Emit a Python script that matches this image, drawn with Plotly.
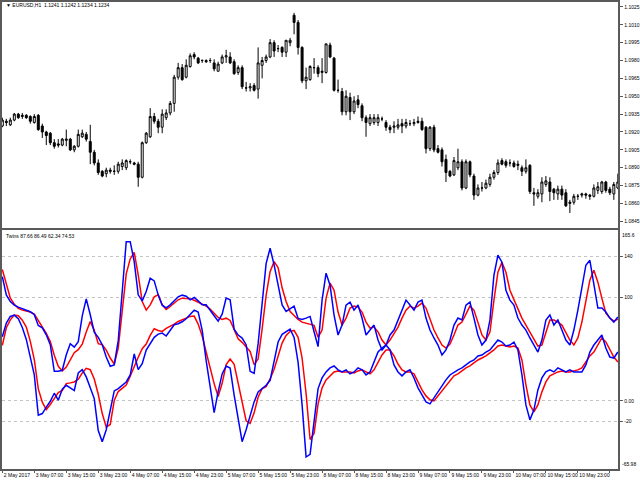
import plotly.graph_objects as go
from plotly.subplots import make_subplots

SYMBOL_TITLE = "▼ EURUSD,H1  1.1241 1.1242 1.1234 1.1234"
INDICATOR_TITLE = "Twins 87.66 86.49 62.34 74.53"

# EURUSD H1 candles, one per hour
OPEN = [
    1.0925, 1.0929, 1.0926, 1.0930, 1.0935, 1.0933, 1.0934, 1.0933, 1.0928, 1.0934,
    1.0925, 1.0920, 1.0919, 1.0911, 1.0910, 1.0909, 1.0913, 1.0914, 1.0905, 1.0908,
    1.0916, 1.0918, 1.0912, 1.0903, 1.0894, 1.0887, 1.0885, 1.0888, 1.0887, 1.0887,
    1.0891, 1.0890, 1.0895, 1.0894, 1.0893, 1.0882, 1.0911, 1.0916, 1.0933, 1.0929,
    1.0924, 1.0932, 1.0936, 1.0944, 1.0966, 1.0974, 1.0966, 1.0975, 1.0985, 1.0982,
    1.0980, 1.0980, 1.0980, 1.0978, 1.0971, 1.0978, 1.0983, 1.0983, 1.0979, 1.0970,
    1.0974, 1.0957, 1.0957, 1.0959, 1.0956, 1.0976, 1.0980, 1.0983, 1.0995, 1.0990,
    1.0991, 1.0987, 1.0995, 1.1018, 1.1012, 1.0991, 1.0963, 1.0964, 1.0974, 1.0974,
    1.0970, 1.0970, 1.0993, 1.0982, 1.0955, 1.0954, 1.0937, 1.0949, 1.0937, 1.0947,
    1.0942, 1.0932, 1.0927, 1.0928, 1.0928, 1.0931, 1.0928, 1.0924, 1.0924, 1.0924,
    1.0927, 1.0925, 1.0927, 1.0927, 1.0928, 1.0929, 1.0924, 1.0906, 1.0924, 1.0906,
    1.0905, 1.0897, 1.0887, 1.0884, 1.0890, 1.0895, 1.0873, 1.0895, 1.0883, 1.0867,
    1.0873, 1.0873, 1.0876, 1.0882, 1.0886, 1.0896, 1.0895, 1.0894, 1.0894, 1.0893,
    1.0890, 1.0887, 1.0892, 1.0869, 1.0866, 1.0868, 1.0876, 1.0878, 1.0872, 1.0868,
    1.0872, 1.0869, 1.0860, 1.0861, 1.0866, 1.0867, 1.0868, 1.0867, 1.0866, 1.0871,
    1.0870, 1.0878, 1.0872, 1.0868, 1.0873,
]
HIGH = [
    1.0932, 1.0931, 1.0932, 1.0936, 1.0936, 1.0936, 1.0935, 1.0934, 1.0935, 1.0935,
    1.0927, 1.0921, 1.0920, 1.0914, 1.0914, 1.0915, 1.0922, 1.0915, 1.0909, 1.0922,
    1.0922, 1.0920, 1.0926, 1.0905, 1.0897, 1.0888, 1.0890, 1.0890, 1.0892, 1.0895,
    1.0897, 1.0897, 1.0897, 1.0895, 1.0895, 1.0912, 1.0920, 1.0940, 1.0936, 1.0931,
    1.0939, 1.0939, 1.0946, 1.0968, 1.0978, 1.0977, 1.0981, 1.0986, 1.0987, 1.0983,
    1.0981, 1.0981, 1.0982, 1.0981, 1.0979, 1.0985, 1.0989, 1.0987, 1.0981, 1.0976,
    1.0976, 1.0962, 1.0961, 1.0961, 1.0991, 1.0983, 1.0985, 1.0998, 1.0997, 1.0993,
    1.0992, 1.0997, 1.0999, 1.1020, 1.1014, 1.0992, 1.0974, 1.0976, 1.0982, 1.0976,
    1.0982, 1.0994, 1.0995, 1.0983, 1.0964, 1.0957, 1.0955, 1.0953, 1.0950, 1.0951,
    1.0944, 1.0934, 1.0935, 1.0935, 1.0935, 1.0933, 1.0930, 1.0926, 1.0929, 1.0931,
    1.0931, 1.0931, 1.0930, 1.0931, 1.0933, 1.0932, 1.0925, 1.0925, 1.0926, 1.0909,
    1.0907, 1.0901, 1.0888, 1.0899, 1.0906, 1.0897, 1.0897, 1.0896, 1.0885, 1.0876,
    1.0878, 1.0880, 1.0885, 1.0888, 1.0897, 1.0898, 1.0897, 1.0897, 1.0896, 1.0896,
    1.0892, 1.0897, 1.0893, 1.0873, 1.0872, 1.0882, 1.0883, 1.0882, 1.0873, 1.0875,
    1.0875, 1.0872, 1.0863, 1.0868, 1.0868, 1.0869, 1.0869, 1.0868, 1.0876, 1.0878,
    1.0879, 1.0879, 1.0874, 1.0878, 1.0885,
]
LOW = [
    1.0924, 1.0925, 1.0925, 1.0929, 1.0931, 1.0931, 1.0931, 1.0927, 1.0927, 1.0921,
    1.0915, 1.0909, 1.0909, 1.0906, 1.0907, 1.0908, 1.0908, 1.0904, 1.0903, 1.0907,
    1.0915, 1.0912, 1.0893, 1.0892, 1.0884, 1.0882, 1.0882, 1.0885, 1.0884, 1.0885,
    1.0888, 1.0888, 1.0893, 1.0892, 1.0874, 1.0881, 1.0910, 1.0915, 1.0927, 1.0919,
    1.0919, 1.0930, 1.0934, 1.0937, 1.0964, 1.0963, 1.0965, 1.0974, 1.0981, 1.0977,
    1.0978, 1.0978, 1.0978, 1.0971, 1.0971, 1.0977, 1.0978, 1.0977, 1.0968, 1.0968,
    1.0956, 1.0954, 1.0954, 1.0954, 1.0948, 1.0965, 1.0978, 1.0982, 1.0983, 1.0987,
    1.0983, 1.0983, 1.0992, 1.1002, 1.0985, 1.0961, 1.0956, 1.0963, 1.0969, 1.0966,
    1.0961, 1.0969, 1.0982, 1.0954, 1.0953, 1.0934, 1.0934, 1.0930, 1.0935, 1.0940,
    1.0929, 1.0916, 1.0925, 1.0926, 1.0925, 1.0929, 1.0921, 1.0919, 1.0919, 1.0922,
    1.0919, 1.0923, 1.0925, 1.0925, 1.0927, 1.0921, 1.0902, 1.0904, 1.0903, 1.0902,
    1.0891, 1.0878, 1.0882, 1.0883, 1.0888, 1.0871, 1.0872, 1.0882, 1.0863, 1.0866,
    1.0870, 1.0872, 1.0874, 1.0880, 1.0884, 1.0892, 1.0890, 1.0891, 1.0890, 1.0888,
    1.0883, 1.0885, 1.0868, 1.0858, 1.0864, 1.0861, 1.0874, 1.0862, 1.0863, 1.0863,
    1.0863, 1.0857, 1.0852, 1.0859, 1.0863, 1.0865, 1.0864, 1.0863, 1.0865, 1.0868,
    1.0868, 1.0869, 1.0867, 1.0863, 1.0872,
]
CLOSE = [
    1.0930, 1.0928, 1.0930, 1.0935, 1.0932, 1.0934, 1.0932, 1.0929, 1.0933, 1.0922,
    1.0920, 1.0917, 1.0911, 1.0908, 1.0909, 1.0914, 1.0914, 1.0905, 1.0908, 1.0918,
    1.0919, 1.0914, 1.0903, 1.0894, 1.0886, 1.0883, 1.0888, 1.0887, 1.0887, 1.0893,
    1.0894, 1.0896, 1.0895, 1.0893, 1.0882, 1.0911, 1.0919, 1.0933, 1.0929, 1.0924,
    1.0935, 1.0936, 1.0944, 1.0966, 1.0974, 1.0964, 1.0976, 1.0984, 1.0983, 1.0978,
    1.0980, 1.0979, 1.0980, 1.0973, 1.0977, 1.0983, 1.0984, 1.0978, 1.0969, 1.0974,
    1.0958, 1.0957, 1.0958, 1.0955, 1.0978, 1.0980, 1.0983, 1.0995, 1.0988, 1.0990,
    1.0987, 1.0997, 1.0997, 1.1012, 1.0991, 1.0963, 1.0966, 1.0975, 1.0974, 1.0969,
    1.0971, 1.0994, 1.0983, 1.0955, 1.0955, 1.0937, 1.0950, 1.0937, 1.0946, 1.0943,
    1.0932, 1.0928, 1.0932, 1.0932, 1.0932, 1.0931, 1.0924, 1.0922, 1.0925, 1.0926,
    1.0925, 1.0928, 1.0927, 1.0928, 1.0929, 1.0922, 1.0906, 1.0924, 1.0905, 1.0903,
    1.0895, 1.0886, 1.0883, 1.0896, 1.0895, 1.0873, 1.0895, 1.0884, 1.0867, 1.0873,
    1.0873, 1.0877, 1.0882, 1.0886, 1.0894, 1.0893, 1.0892, 1.0894, 1.0891, 1.0892,
    1.0887, 1.0890, 1.0870, 1.0868, 1.0869, 1.0878, 1.0879, 1.0870, 1.0869, 1.0872,
    1.0867, 1.0858, 1.0861, 1.0866, 1.0866, 1.0868, 1.0867, 1.0866, 1.0873, 1.0874,
    1.0878, 1.0871, 1.0869, 1.0876, 1.0878,
]

# "Twins" indicator: a fast blue/red pair and a slow blue/red pair
BLUE_FAST = [
    120.4, 102.7, 96.2, 92.7, 90.8, 89.2, 87.9, 86.3, 83.4, 73.1,
    70.8, 64.0, 54.4, 28.6, 28.6, 29.6, 44.7, 55.4, 52.1, 57.3,
    82.4, 98.8, 83.4, 66.6, 61.5, 54.4, 42.5, 33.5, 34.8, 58.3,
    105.9, 154.2, 154.2, 134.9, 102.7, 96.9, 105.9, 118.8, 116.2, 102.7,
    92.7, 90.1, 93.0, 96.9, 100.8, 102.4, 101.4, 97.9, 100.1, 96.9,
    93.0, 93.0, 87.2, 82.4, 77.2, 84.0, 99.5, 97.9, 69.5, 63.7,
    60.8, 54.4, 28.6, 26.7, 55.4, 93.0, 133.0, 147.8, 131.7, 112.4,
    93.0, 86.6, 89.2, 91.7, 79.8, 78.9, 80.1, 81.8, 66.9, 52.5,
    97.6, 123.7, 112.1, 83.1, 63.8, 73.4, 92.8, 95.7, 87.9, 92.8,
    80.2, 63.8, 68.6, 73.4, 58.9, 49.3, 54.1, 63.8, 68.6, 78.3,
    87.9, 97.6, 92.8, 87.9, 95.7, 97.6, 80.2, 68.6, 60.9, 54.1,
    44.4, 49.3, 58.9, 73.4, 80.2, 78.3, 92.8, 95.7, 80.2, 63.8,
    54.1, 58.9, 78.3, 121.7, 141.1, 134.3, 107.2, 97.6, 92.8, 80.2,
    73.4, 68.6, 60.9, 54.1, 47.3, 58.9, 78.3, 83.1, 73.4, 78.3,
    68.6, 58.9, 54.1, 68.6, 87.9, 109.2, 131.4, 136.2, 112.1, 89.9,
    89.9, 86.0, 80.2, 76.3, 81.2,
]
RED_FAST = [
    127.2, 113.3, 99.5, 93.7, 89.5, 87.9, 87.2, 86.0, 84.0, 78.2,
    72.4, 65.3, 57.6, 44.1, 33.5, 29.0, 32.8, 39.9, 46.7, 49.6,
    55.0, 66.6, 76.9, 68.3, 55.4, 54.4, 49.2, 41.5, 35.7, 51.2,
    89.5, 123.0, 137.5, 143.9, 122.0, 96.2, 87.9, 93.0, 100.8, 102.7,
    93.0, 88.5, 91.4, 95.0, 97.9, 99.5, 99.5, 98.8, 97.5, 95.6,
    93.7, 91.7, 88.9, 85.3, 80.8, 78.9, 80.1, 77.9, 68.9, 60.2,
    56.7, 52.1, 47.9, 35.1, 40.6, 69.5, 102.1, 125.2, 134.9, 129.1,
    109.5, 96.2, 86.6, 82.7, 78.9, 76.3, 75.0, 74.4, 73.1, 61.5,
    68.6, 99.5, 114.0, 107.2, 86.0, 73.4, 80.2, 89.9, 91.8, 90.8,
    86.0, 76.3, 70.5, 71.5, 66.7, 58.9, 54.1, 58.9, 64.7, 71.5,
    80.2, 87.9, 91.8, 89.9, 91.8, 94.7, 89.9, 78.3, 68.6, 60.9,
    54.1, 51.2, 55.1, 63.8, 73.4, 76.3, 84.1, 91.8, 87.9, 76.3,
    63.8, 58.9, 66.7, 97.6, 124.6, 134.3, 124.6, 107.2, 97.6, 87.9,
    80.2, 73.4, 66.7, 58.9, 53.1, 54.1, 66.7, 78.3, 78.3, 76.3,
    73.4, 65.7, 58.9, 54.1, 60.9, 76.3, 97.6, 116.9, 126.6, 115.0,
    99.5, 85.0, 80.2, 77.3, 79.2,
]
BLUE_SLOW = [
    62.1, 75.3, 81.8, 83.1, 79.5, 71.1, 59.5, 40.6, 25.1, -13.9,
    -12.3, -6.1, -0.4, 7.4, 0.6, 11.3, 15.1, 12.5, 10.0, 27.0,
    30.2, 23.2, 11.6, 2.2, -28.7, -39.6, -28.0, -8.4, 9.6, 11.9,
    14.8, 18.3, 25.1, 45.4, 30.2, 36.0, 49.2, 56.0, 61.5, 64.7,
    65.7, 62.8, 68.2, 73.7, 74.7, 76.6, 79.5, 84.0, 87.9, 86.0,
    68.6, 39.0, 11.9, -11.3, 9.0, 26.1, 33.8, 31.8, 5.5, -18.7,
    -39.6, -28.0, -14.8, -1.0, 8.7, 12.2, 15.1, 19.9, 38.3, 57.0,
    64.4, 66.9, 69.5, 61.5, 37.3, -3.9, -54.4, -51.9, -20.9, 11.9,
    22.2, 28.0, 31.9, 33.8, 30.0, 28.0, 30.0, 26.1, 28.0, 31.9,
    30.0, 25.1, 28.0, 37.7, 47.3, 51.2, 54.1, 49.3, 34.8, 28.0,
    24.2, 28.0, 30.0, 22.2, 12.6, 5.8, -1.0, -2.9, 2.9, 8.7,
    15.5, 20.3, 25.1, 28.0, 30.0, 31.9, 34.8, 37.7, 39.6, 43.5,
    44.4, 47.3, 49.3, 54.1, 58.9, 57.0, 53.1, 54.1, 57.0, 49.3,
    25.1, -3.9, -18.4, -8.7, 10.6, 22.2, 28.0, 30.0, 28.0, 31.9,
    30.0, 28.0, 30.0, 28.0, 28.0, 28.0, 34.8, 47.3, 54.1, 58.9,
    63.8, 51.2, 42.5, 41.5, 47.3,
]
RED_SLOW = [
    53.8, 70.8, 78.5, 83.1, 82.4, 78.2, 71.5, 57.6, 39.9, 11.6,
    -1.3, -8.4, -3.6, 2.2, 8.0, 10.0, 16.7, 17.4, 18.3, 20.9,
    27.0, 31.5, 30.2, 21.2, 6.4, -12.3, -25.5, -22.9, 0.3, 9.0,
    12.2, 15.4, 23.8, 33.5, 42.2, 50.5, 55.0, 63.4, 69.9, 68.2,
    67.3, 70.2, 72.1, 74.4, 76.9, 78.9, 80.2, 81.8, 82.1, 74.4,
    62.8, 47.3, 31.8, 16.7, 4.2, 17.0, 35.1, 40.6, 35.4, 17.0,
    -2.0, -19.3, -21.9, -11.6, 3.5, 11.9, 13.8, 21.2, 30.6, 42.2,
    56.0, 63.4, 67.3, 68.2, 61.5, 41.5, 7.1, -37.4, -31.6, -2.9,
    12.6, 20.3, 24.2, 28.0, 29.0, 28.0, 28.0, 28.0, 27.1, 29.0,
    30.0, 28.0, 26.1, 30.0, 37.7, 44.4, 49.3, 49.3, 43.5, 35.7,
    30.0, 28.0, 28.0, 26.1, 18.4, 10.6, 4.8, 1.0, 0.0, 4.8,
    10.6, 15.5, 20.3, 24.2, 26.1, 29.0, 31.9, 33.8, 36.7, 39.6,
    41.5, 43.5, 46.4, 49.3, 53.1, 54.1, 53.1, 52.2, 53.1, 51.2,
    39.6, 15.5, -3.9, -10.6, -3.9, 8.7, 18.4, 24.2, 26.1, 28.0,
    29.0, 28.0, 28.0, 29.0, 30.0, 31.9, 37.7, 43.5, 47.3, 54.1,
    60.9, 57.0, 49.3, 42.5, 37.7,
]

TIME_LABELS = [
    "2 May 2017", "3 May 07:00", "3 May 15:00", "3 May 23:00", "4 May 07:00",
    "4 May 15:00", "4 May 23:00", "5 May 07:00", "5 May 15:00", "5 May 23:00",
    "8 May 07:00", "8 May 15:00", "8 May 23:00", "9 May 07:00", "9 May 15:00",
    "9 May 23:00", "10 May 07:00", "10 May 15:00", "10 May 23:00", "11 May 07:00",
]
BARS_PER_LABEL = 8

PRICE_TICKS = [1.0845, 1.0860, 1.0875, 1.0890, 1.0905, 1.0920, 1.0935,
               1.0950, 1.0965, 1.0980, 1.0995, 1.1010, 1.1025]
LEVELS = [-20, 0, 100, 140]
LEVEL_TEXT = ["-20", "0.00", "100", "140"]
IND_MAX, IND_MIN = 165.6, -65.98

bars = list(range(len(OPEN)))
label_bars = bars[::BARS_PER_LABEL][: len(TIME_LABELS)]

FRAME = "#5a5a5a"
FONT = dict(family="Liberation Sans, DejaVu Sans, sans-serif", size=5, color="black")

fig = make_subplots(rows=2, cols=1, shared_xaxes=True)

fig.add_trace(
    go.Candlestick(
        x=bars, open=OPEN, high=HIGH, low=LOW, close=CLOSE,
        increasing=dict(line=dict(color="black", width=1), fillcolor="white"),
        decreasing=dict(line=dict(color="black", width=1), fillcolor="black"),
        hoverinfo="skip", showlegend=False,
    ),
    row=1, col=1,
)

for series, color in [
    (RED_FAST, "#ff0000"), (BLUE_FAST, "#0000ff"),
    (RED_SLOW, "#ff0000"), (BLUE_SLOW, "#0000ff"),
]:
    fig.add_trace(
        go.Scatter(x=bars, y=series, mode="lines",
                   line=dict(color=color, width=1.5),
                   hoverinfo="skip", showlegend=False),
        row=2, col=1,
    )

x_common = dict(
    domain=[0.003, 0.966], range=[-0.1, len(bars) - 0.9],
    showgrid=False, zeroline=False, showline=True, mirror=True,
    linecolor=FRAME, linewidth=2,
)
fig.update_layout(
    width=640, height=480,
    margin=dict(l=0, r=0, t=0, b=0),
    paper_bgcolor="white", plot_bgcolor="white",
    font=FONT, showlegend=False,
    xaxis=dict(**x_common, showticklabels=False, ticks="",
               rangeslider=dict(visible=False)),
    xaxis2=dict(**x_common, tickvals=label_bars, ticktext=TIME_LABELS,
                tickangle=0, ticks="outside", ticklen=2, tickcolor=FRAME,
                ticklabelposition="outside right", tickfont=FONT),
    yaxis=dict(domain=[0.526, 0.996], range=[1.08398, 1.10292], side="right",
               tickvals=PRICE_TICKS, tickformat=".4f",
               ticks="outside", ticklen=3, tickcolor=FRAME, tickfont=FONT,
               showgrid=False, zeroline=False, showline=True, mirror=True,
               linecolor=FRAME, linewidth=2),
    yaxis2=dict(domain=[0.023, 0.521], range=[IND_MIN, IND_MAX], side="right",
                tickvals=LEVELS, ticktext=LEVEL_TEXT,
                ticks="outside", ticklen=3, tickcolor=FRAME, tickfont=FONT,
                showgrid=True, gridcolor="#c4c4c4", gridwidth=1, griddash="dot",
                zeroline=False, showline=True, mirror=True,
                linecolor=FRAME, linewidth=2),
)

# panel captions and the scale extremes of the indicator window
fig.add_annotation(text=SYMBOL_TITLE, xref="paper", yref="paper", x=0.006, y=0.989,
                   xanchor="left", yanchor="middle", showarrow=False, font=FONT)
fig.add_annotation(text=INDICATOR_TITLE, xref="paper", yref="paper", x=0.006, y=0.509,
                   xanchor="left", yanchor="middle", showarrow=False, font=FONT)
fig.add_annotation(text=f"{IND_MAX:g}", xref="paper", yref="y2", x=0.969, y=IND_MAX,
                   xanchor="left", yanchor="top", showarrow=False, font=FONT)
fig.add_annotation(text=f"{IND_MIN:.2f}", xref="paper", yref="y2", x=0.969, y=IND_MIN,
                   xanchor="left", yanchor="bottom", showarrow=False, font=FONT)

# the page's default body margin would push the 640x480 figure out of the window
fig.write_html(
    "out.html",
    config={"displayModeBar": False},
    post_script="document.body.style.margin='0';document.body.style.overflow='hidden';",
)
